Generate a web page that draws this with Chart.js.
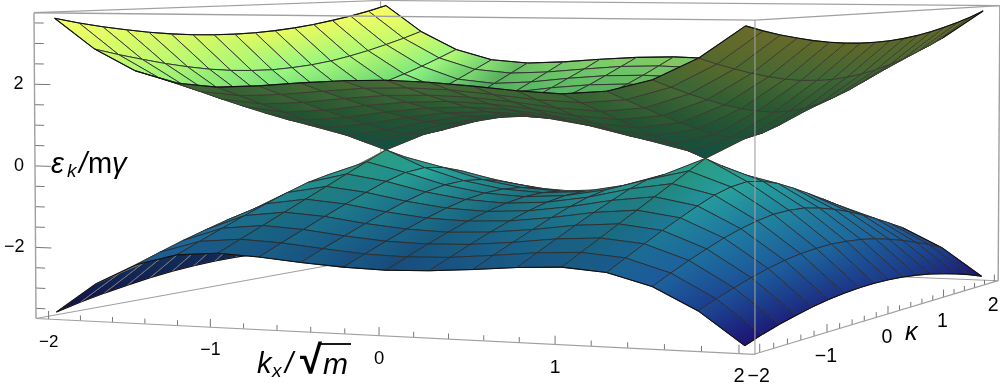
<!DOCTYPE html>
<html>
<head>
<meta charset="utf-8">
<script src="https://cdn.jsdelivr.net/npm/chart.js@4"></script>
<style>
  html, body { margin: 0; padding: 0; background: #fff; }
  canvas { display: block; }
</style>
</head>
<body>
<canvas id="myChart" width="1000" height="390"></canvas>
<script>
// grid of the mesh, both directions
const kxValues = [-2, -1.75, -1.5, -1.25, -1, -0.75, -0.5, -0.25, 0, 0.25, 0.5, 0.75, 1, 1.25, 1.5, 1.75, 2];
const kappaValues = [-2, -1.75, -1.5, -1.25, -1, -0.75, -0.5, -0.25, 0, 0.25, 0.5, 0.75, 1, 1.25, 1.5, 1.75, 2];

// energies read at the mesh nodes, one row per kappa
const upperBand = [
  [3.61,2.87,2.36,2.08,2.00,2.05,2.14,2.21,2.24,2.21,2.14,2.05,2.00,2.08,2.36,2.87,3.61],
  [3.47,2.70,2.15,1.84,1.75,1.80,1.90,1.99,2.02,1.99,1.90,1.80,1.75,1.84,2.15,2.70,3.47],
  [3.35,2.55,1.95,1.60,1.50,1.56,1.68,1.77,1.80,1.77,1.68,1.56,1.50,1.60,1.95,2.55,3.35],
  [3.25,2.41,1.77,1.37,1.25,1.32,1.46,1.56,1.60,1.56,1.46,1.32,1.25,1.37,1.77,2.41,3.25],
  [3.16,2.29,1.60,1.15,1.00,1.09,1.25,1.37,1.41,1.37,1.25,1.09,1.00,1.15,1.60,2.29,3.16],
  [3.09,2.19,1.46,0.94,0.75,0.87,1.06,1.20,1.25,1.20,1.06,0.87,0.75,0.94,1.46,2.19,3.09],
  [3.04,2.12,1.35,0.75,0.50,0.66,0.90,1.06,1.12,1.06,0.90,0.66,0.50,0.75,1.35,2.12,3.04],
  [3.01,2.08,1.27,0.62,0.25,0.50,0.79,0.97,1.03,0.97,0.79,0.50,0.25,0.62,1.27,2.08,3.01],
  [3.00,2.06,1.25,0.56,0.00,0.44,0.75,0.94,1.00,0.94,0.75,0.44,0.00,0.56,1.25,2.06,3.00],
  [3.01,2.08,1.27,0.62,0.25,0.50,0.79,0.97,1.03,0.97,0.79,0.50,0.25,0.62,1.27,2.08,3.01],
  [3.04,2.12,1.35,0.75,0.50,0.66,0.90,1.06,1.12,1.06,0.90,0.66,0.50,0.75,1.35,2.12,3.04],
  [3.09,2.19,1.46,0.94,0.75,0.87,1.06,1.20,1.25,1.20,1.06,0.87,0.75,0.94,1.46,2.19,3.09],
  [3.16,2.29,1.60,1.15,1.00,1.09,1.25,1.37,1.41,1.37,1.25,1.09,1.00,1.15,1.60,2.29,3.16],
  [3.25,2.41,1.77,1.37,1.25,1.32,1.46,1.56,1.60,1.56,1.46,1.32,1.25,1.37,1.77,2.41,3.25],
  [3.35,2.55,1.95,1.60,1.50,1.56,1.68,1.77,1.80,1.77,1.68,1.56,1.50,1.60,1.95,2.55,3.35],
  [3.47,2.70,2.15,1.84,1.75,1.80,1.90,1.99,2.02,1.99,1.90,1.80,1.75,1.84,2.15,2.70,3.47],
  [3.61,2.87,2.36,2.08,2.00,2.05,2.14,2.21,2.24,2.21,2.14,2.05,2.00,2.08,2.36,2.87,3.61]
];
const lowerBand = [
  [-3.61,-2.87,-2.36,-2.08,-2.00,-2.05,-2.14,-2.21,-2.24,-2.21,-2.14,-2.05,-2.00,-2.08,-2.36,-2.87,-3.61],
  [-3.47,-2.70,-2.15,-1.84,-1.75,-1.80,-1.90,-1.99,-2.02,-1.99,-1.90,-1.80,-1.75,-1.84,-2.15,-2.70,-3.47],
  [-3.35,-2.55,-1.95,-1.60,-1.50,-1.56,-1.68,-1.77,-1.80,-1.77,-1.68,-1.56,-1.50,-1.60,-1.95,-2.55,-3.35],
  [-3.25,-2.41,-1.77,-1.37,-1.25,-1.32,-1.46,-1.56,-1.60,-1.56,-1.46,-1.32,-1.25,-1.37,-1.77,-2.41,-3.25],
  [-3.16,-2.29,-1.60,-1.15,-1.00,-1.09,-1.25,-1.37,-1.41,-1.37,-1.25,-1.09,-1.00,-1.15,-1.60,-2.29,-3.16],
  [-3.09,-2.19,-1.46,-0.94,-0.75,-0.87,-1.06,-1.20,-1.25,-1.20,-1.06,-0.87,-0.75,-0.94,-1.46,-2.19,-3.09],
  [-3.04,-2.12,-1.35,-0.75,-0.50,-0.66,-0.90,-1.06,-1.12,-1.06,-0.90,-0.66,-0.50,-0.75,-1.35,-2.12,-3.04],
  [-3.01,-2.08,-1.27,-0.62,-0.25,-0.50,-0.79,-0.97,-1.03,-0.97,-0.79,-0.50,-0.25,-0.62,-1.27,-2.08,-3.01],
  [-3.00,-2.06,-1.25,-0.56,0.00,-0.44,-0.75,-0.94,-1.00,-0.94,-0.75,-0.44,0.00,-0.56,-1.25,-2.06,-3.00],
  [-3.01,-2.08,-1.27,-0.62,-0.25,-0.50,-0.79,-0.97,-1.03,-0.97,-0.79,-0.50,-0.25,-0.62,-1.27,-2.08,-3.01],
  [-3.04,-2.12,-1.35,-0.75,-0.50,-0.66,-0.90,-1.06,-1.12,-1.06,-0.90,-0.66,-0.50,-0.75,-1.35,-2.12,-3.04],
  [-3.09,-2.19,-1.46,-0.94,-0.75,-0.87,-1.06,-1.20,-1.25,-1.20,-1.06,-0.87,-0.75,-0.94,-1.46,-2.19,-3.09],
  [-3.16,-2.29,-1.60,-1.15,-1.00,-1.09,-1.25,-1.37,-1.41,-1.37,-1.25,-1.09,-1.00,-1.15,-1.60,-2.29,-3.16],
  [-3.25,-2.41,-1.77,-1.37,-1.25,-1.32,-1.46,-1.56,-1.60,-1.56,-1.46,-1.32,-1.25,-1.37,-1.77,-2.41,-3.25],
  [-3.35,-2.55,-1.95,-1.60,-1.50,-1.56,-1.68,-1.77,-1.80,-1.77,-1.68,-1.56,-1.50,-1.60,-1.95,-2.55,-3.35],
  [-3.47,-2.70,-2.15,-1.84,-1.75,-1.80,-1.90,-1.99,-2.02,-1.99,-1.90,-1.80,-1.75,-1.84,-2.15,-2.70,-3.47],
  [-3.61,-2.87,-2.36,-2.08,-2.00,-2.05,-2.14,-2.21,-2.24,-2.21,-2.14,-2.05,-2.00,-2.08,-2.36,-2.87,-3.61]
];

// tick labels and tick marks
const kxTicks = [-2, -1, 0, 1, 2];
const kappaTicks = [-2, -1, 0, 1, 2];
const energyTicks = [-2, 0, 2];
const kxMarks = [-2, -1.8, -1.6, -1.4, -1.2, -1, -0.8, -0.6, -0.4, -0.2, 0, 0.2, 0.4, 0.6, 0.8, 1, 1.2, 1.4, 1.6, 1.8, 2];
const energyMarks = [-3.5, -3, -2.5, -2, -1.5, -1, -0.5, 0, 0.5, 1, 1.5, 2, 2.5, 3, 3.5];

// colour function of the surfaces
const paletteEnergies = [-3.61, -2.5, -1.5, -0.5, 0, 1, 1.5, 2, 2.5, 3, 3.61];
const paletteColors = [[28, 20, 115], [28, 85, 155], [30, 122, 160], [40, 165, 155], [50, 188, 155],
  [80, 195, 120], [110, 218, 115], [145, 245, 130], [190, 250, 110], [225, 250, 95], [250, 255, 100]];

// box of the plot in data units and where its corners land on the page
const boxK = 2.08;
const boxE = 3.75;
const origin = [36, 318.5];
const cornerKx = [754, 354.3];
const cornerKappa = [381, 256];
const cornerE = [34, 12.7];
const weightKx = 0.915;
const weightKappa = 1.197;
const weightE = 0.996;

function project(kx, kappa, e) {
  const s = (kx + boxK) / (2 * boxK);
  const t = (kappa + boxK) / (2 * boxK);
  const r = (e + boxE) / (2 * boxE);
  const w = 1 + s * (weightKx - 1) + t * (weightKappa - 1) + r * (weightE - 1);
  const at = (i) => (origin[i] + s * (weightKx * cornerKx[i] - origin[i])
    + t * (weightKappa * cornerKappa[i] - origin[i]) + r * (weightE * cornerE[i] - origin[i])) / w;
  return { x: at(0), y: at(1), w: w };
}

function colorAt(e, shade) {
  let i = 0;
  while (i < paletteEnergies.length - 2 && e > paletteEnergies[i + 1]) i++;
  let f = (e - paletteEnergies[i]) / (paletteEnergies[i + 1] - paletteEnergies[i]);
  f = Math.max(0, Math.min(1, f));
  const c = paletteColors[i].map((v, n) => Math.round((v + f * (paletteColors[i + 1][n] - v)) * shade));
  return 'rgb(' + c.join(',') + ')';
}

const ctx = document.getElementById('myChart').getContext('2d');

function lineSet(a, b, color, width) {
  return {
    data: [a, b], showLine: true, pointRadius: 0, borderColor: color, borderWidth: width,
    fill: false, clip: false, tension: 0
  };
}

// flat parts along kx catch less of the light
function nodeShade(band, i, j) {
  const a = Math.max(0, i - 1);
  const b = Math.min(kxValues.length - 1, i + 1);
  const slope = Math.abs(band[j][b] - band[j][a]) / (kxValues[b] - kxValues[a]);
  return 0.8 + 0.2 * Math.min(1, slope / 1.5);
}

// cells of one surface, nearest first because Chart.js paints the first dataset last
function surfaceSets(band, undersideShade, meshUnder) {
  const items = [];
  for (let j = 0; j < kappaValues.length - 1; j++) {
    for (let i = 0; i < kxValues.length - 1; i++) {
      const nodes = [[i, j], [i + 1, j], [i + 1, j + 1], [i, j + 1]];
      const pts = nodes.map(n => project(kxValues[n[0]], kappaValues[n[1]], band[n[1]][n[0]]));
      const es = nodes.map(n => band[n[1]][n[0]]);
      let area = 0;
      pts.forEach((p, n) => {
        const q = pts[(n + 1) % 4];
        area += p.x * q.y - q.x * p.y;
      });
      const top = area < 0;
      const lo = es.indexOf(Math.min(...es));
      const hi = es.indexOf(Math.max(...es));
      const shadeLo = top ? nodeShade(band, nodes[lo][0], nodes[lo][1]) : undersideShade;
      const shadeHi = top ? nodeShade(band, nodes[hi][0], nodes[hi][1]) : undersideShade;
      const grad = ctx.createLinearGradient(pts[lo].x, pts[lo].y, pts[hi].x + 0.01, pts[hi].y + 0.01);
      grad.addColorStop(0, colorAt(es[lo], shadeLo));
      grad.addColorStop(1, colorAt(es[hi], shadeHi));
      const depth = pts.reduce((sum, p) => sum + p.w, 0) / 4;
      items.push({
        depth: depth,
        set: {
          data: pts.concat([pts[0]]).map(p => ({ x: p.x, y: p.y })),
          showLine: true, pointRadius: 0, tension: 0, clip: false,
          fill: 'shape', backgroundColor: grad,
          borderColor: top ? 'rgba(45,45,45,0.9)' : meshUnder, borderWidth: 1
        }
      });
      // outer rim of the surface
      const last = kxValues.length - 2;
      if (j === 0) items.push({ depth: depth - 1e-4, set: lineSet(pts[0], pts[1], '#111', 1.1) });
      if (j === last) items.push({ depth: depth - 1e-4, set: lineSet(pts[2], pts[3], '#111', 1.1) });
      if (i === 0) items.push({ depth: depth - 1e-4, set: lineSet(pts[3], pts[0], '#111', 1.1) });
      if (i === last) items.push({ depth: depth - 1e-4, set: lineSet(pts[1], pts[2], '#111', 1.1) });
    }
  }
  items.sort((a, b) => a.depth - b.depth);
  return items.map(it => it.set);
}

function boxEdge(a, b, width) {
  return lineSet(project(a[0] * boxK, a[1] * boxK, a[2] * boxE), project(b[0] * boxK, b[1] * boxK, b[2] * boxE), '#a0a0a0', width);
}

// edges in front of the surfaces
const frontEdges = [
  boxEdge([-1, -1, 1], [1, -1, 1], 1.4),
  boxEdge([1, -1, -1], [1, -1, 1], 1.1),
  boxEdge([-1, -1, -1], [1, -1, -1], 1.2),
  boxEdge([1, -1, -1], [1, 1, -1], 1.2),
  boxEdge([-1, -1, -1], [-1, -1, 1], 1.4)
];
// edges behind them
const backEdges = [
  boxEdge([-1, 1, 1], [1, 1, 1], 1.2),
  boxEdge([-1, -1, 1], [-1, 1, 1], 1.2),
  boxEdge([1, -1, 1], [1, 1, 1], 1.1),
  boxEdge([1, 1, -1], [1, 1, 1], 1.4),
  boxEdge([-1, 1, -1], [-1, 1, 1], 1.1),
  boxEdge([-1, -1, -1], [-1, 1, -1], 1.1),
  boxEdge([-1, 1, -1], [1, 1, -1], 1.1)
];

const tickSets = [];
kxMarks.forEach(v => {
  const big = kxTicks.includes(v) ? 0.2 : 0.13;
  tickSets.push(lineSet(project(v, -boxK, -boxE), project(v, -boxK, -boxE + big), '#777', 1));
  tickSets.push(lineSet(project(boxK, v, -boxE), project(boxK, v, -boxE + big), '#777', 1));
});
energyMarks.forEach(v => {
  const big = energyTicks.includes(v) ? 0.1 : 0.06;
  tickSets.push(lineSet(project(-boxK, -boxK, v), project(-boxK + big, -boxK, v), '#777', 1));
});

const labelPlugin = {
  id: 'labels',
  afterDraw(chart) {
    const c = chart.ctx;
    const sx = chart.scales.x;
    const sy = chart.scales.y;
    const minus = (v) => (v < 0 ? '\u2212' + Math.abs(v) : String(v));
    const put = (txt, x, y) => c.fillText(txt, sx.getPixelForValue(x), sy.getPixelForValue(y));
    c.save();
    c.fillStyle = '#000';
    c.textBaseline = 'middle';
    c.textAlign = 'center';
    kxTicks.forEach(v => {
      const p = project(v, -boxK, -boxE);
      c.font = (17 + 0.75 * (v + 2)) + 'px "Liberation Sans"';
      put(minus(v), p.x, p.y + 23);
    });
    c.font = '19.5px "Liberation Sans"';
    kappaTicks.forEach(v => {
      const p = project(boxK, v, -boxE);
      put(minus(v), p.x - 1, p.y + 24);
    });
    c.textAlign = 'right';
    c.font = '18px "Liberation Sans"';
    energyTicks.forEach(v => {
      const p = project(-boxK, -boxK, v);
      put(minus(v), p.x - 11, p.y);
    });

    // axis titles
    c.textAlign = 'left';
    c.font = 'italic 29px "Liberation Sans"';
    put('\u03b5', 51, 165);
    c.font = 'italic 19px "Liberation Sans"';
    put('k', 67, 172);
    c.font = 'italic 29px "Liberation Sans"';
    put('/', 79, 165);
    c.font = '29px "Liberation Sans"';
    put('m', 88, 165);
    c.font = 'italic 29px "Liberation Sans"';
    put('\u03b3', 112, 165);

    put('k', 257, 365);
    c.font = 'italic 19px "Liberation Sans"';
    put('x', 272, 372);
    c.font = 'italic 29px "Liberation Sans"';
    put('/', 285, 365);
    c.font = 'bold 40px "Liberation Sans"';
    put('\u221a', 300, 362);
    c.font = 'italic 30px "Liberation Sans"';
    put('m', 323, 366);
    c.strokeStyle = '#000';
    c.lineWidth = 1.8;
    c.beginPath();
    c.moveTo(sx.getPixelForValue(320), sy.getPixelForValue(344));
    c.lineTo(sx.getPixelForValue(351), sy.getPixelForValue(344));
    c.stroke();

    c.font = 'italic 25px "Liberation Sans"';
    put('\u03ba', 905, 333);
    c.restore();
  }
};

const datasets = frontEdges
  .concat(tickSets)
  .concat(surfaceSets(upperBand, 0.42, 'rgba(60,60,50,0.9)'))
  .concat(surfaceSets(lowerBand, 0.62, 'rgba(130,125,110,0.8)'))
  .concat(backEdges);

const lineChart = new Chart(ctx, {
  type: 'scatter',
  data: { datasets: datasets },
  plugins: [labelPlugin],
  options: {
    responsive: false,
    animation: false,
    events: [],
    layout: { padding: 0 },
    plugins: { legend: { display: false }, tooltip: { enabled: false }, title: { display: false } },
    scales: {
      x: { type: 'linear', display: false, min: 0, max: 1000 },
      y: { type: 'linear', display: false, min: 0, max: 390, reverse: true }
    }
  }
});
</script>
</body>
</html>
